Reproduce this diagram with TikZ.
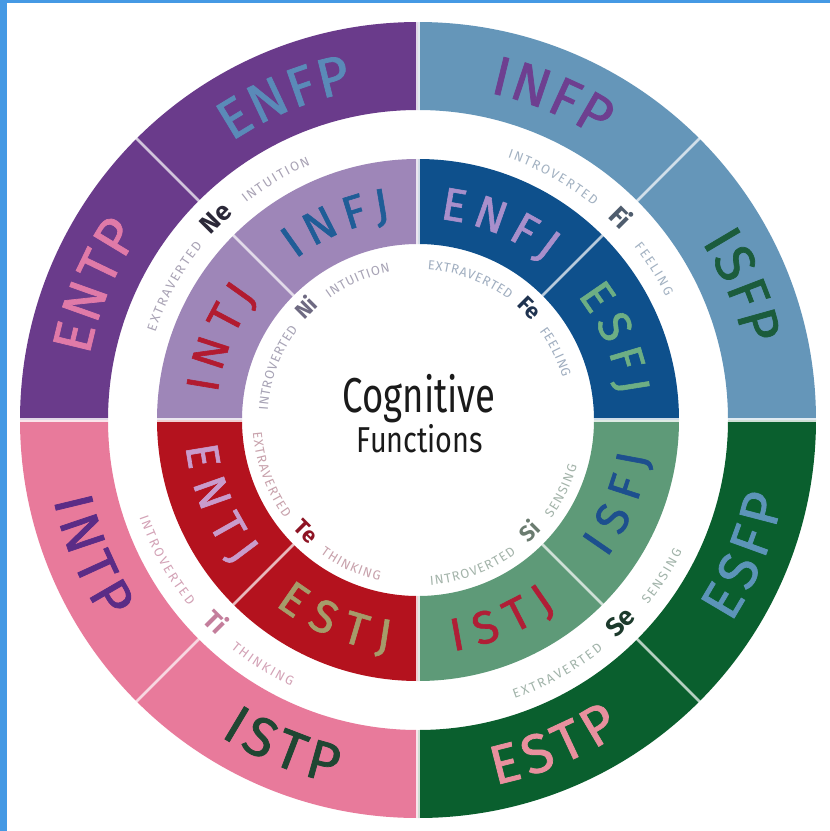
\documentclass[tikz,border=0pt]{standalone}
\usepackage{fontspec}
\setmainfont{Fira Sans}
\newfontfamily\namefont[FakeBold=1.3]{Fira Sans}
\definecolor{edgeblue}{HTML}{4599E4}
\definecolor{oTL}{HTML}{6A3B8B}
\definecolor{oTR}{HTML}{6596B9}
\definecolor{oBR}{HTML}{0A5F2E}
\definecolor{oBL}{HTML}{E87A9B}
\definecolor{iTL}{HTML}{9E86B8}
\definecolor{iTR}{HTML}{0E508C}
\definecolor{iBR}{HTML}{5E9A78}
\definecolor{iBL}{HTML}{B4121E}
% name text colours
\definecolor{tENFP}{HTML}{5A8AB8}
\definecolor{tENTP}{HTML}{E07AA8}
\definecolor{tINFP}{HTML}{6E3F90}
\definecolor{tISFP}{HTML}{1B5C3C}
\definecolor{tESFP}{HTML}{5C94B8}
\definecolor{tESTP}{HTML}{E8909E}
\definecolor{tISTP}{HTML}{1F4632}
\definecolor{tINTP}{HTML}{5B2C86}
\definecolor{tINFJ}{HTML}{1F5D97}
\definecolor{tINTJ}{HTML}{B21B30}
\definecolor{tENFJ}{HTML}{A88FCB}
\definecolor{tESFJ}{HTML}{6DAE84}
\definecolor{tISFJ}{HTML}{1D4F8E}
\definecolor{tISTJ}{HTML}{B01E36}
\definecolor{tESTJ}{HTML}{A59C6A}
\definecolor{tENTJ}{HTML}{C99BCB}
% function label colours
\definecolor{sNe}{HTML}{A9A3B5}
\definecolor{sFi}{HTML}{A3B2C2}
\definecolor{sTi}{HTML}{D3A2B6}
\definecolor{sSe}{HTML}{A2B4AA}
\definecolor{sNi}{HTML}{A8A4B6}
\definecolor{sFe}{HTML}{A0AEC0}
\definecolor{sTe}{HTML}{C8A2AC}
\definecolor{sSi}{HTML}{A4B4AA}
\definecolor{cNe}{HTML}{2B2838}
\definecolor{cFi}{HTML}{4F5D6E}
\definecolor{cTi}{HTML}{C47E9C}
\definecolor{cSe}{HTML}{1C3A2C}
\definecolor{cNi}{HTML}{6E6A82}
\definecolor{cFe}{HTML}{1F3350}
\definecolor{cTe}{HTML}{8E1424}
\definecolor{cSi}{HTML}{6B7C70}
\definecolor{ctext}{HTML}{1A1A1A}

\newcommand{\bigfont}{\namefont\fontsize{55}{55}\selectfont}
\newcommand{\midfont}{\namefont\fontsize{46}{46}\selectfont}
\newcommand{\smallfont}{\normalfont\fontsize{13}{13}\selectfont}

\tikzset{
  bigname/.style={inner sep=0pt, text height=38pt, text depth=0pt},
  midname/.style={inner sep=0pt, text height=31.5pt, text depth=0pt},
  smallword/.style={inner sep=0pt, text height=9pt, text depth=0pt},
  fncode/.style={font=\bfseries\fontsize{26}{26}\selectfont, inner sep=0pt, text height=18pt, text depth=0pt},
  fncodein/.style={font=\bfseries\fontsize{22}{22}\selectfont, inner sep=0pt, text height=15pt, text depth=0pt},
  quaddiv/.style={white, opacity=0.8, line width=4.5pt},
  halfdiv/.style={white, opacity=0.7, line width=2.5pt},
}

% annular sector: colour, inner r, outer r, start angle, end angle
\newcommand{\ringsector}[5]{%
  \fill[#1] (#4:#2) arc[start angle=#4, end angle=#5, radius=#2]
     -- (#5:#3) arc[start angle=#5, end angle=#4, radius=#3] -- cycle;}

% letters along an arc, spaced by their own widths plus tracking
% #1 name, #2 radius, #3 centre angle, #4 tracking (pt), #5 dir (1 top, -1 bottom), #6 style, #7 font, #8 letters
\newdimen\awtot \newdimen\awpos \newdimen\awch
\newbox\awbox
\newcommand{\awmeasure}[2]{%
  \pgfinterruptpicture\global\setbox\awbox=\hbox{#1#2}\endpgfinterruptpicture}
\newcommand{\arcword}[8]{%
  \global\awtot=0pt
  \foreach \ch in {#8}{\awmeasure{#7}{\ch}\global\advance\awtot by \wd\awbox\global\advance\awtot by #4pt}%
  \global\advance\awtot by -#4pt
  \global\awpos=0pt
  \foreach \ch [count=\i] in {#8}{%
    \awmeasure{#7}{\ch}\awch=\wd\awbox
    \pgfmathsetmacro\off{\the\awpos+0.5*\the\awch-0.5*\the\awtot}%
    \pgfmathsetmacro\ang{#3-(#5)*\off/#2*57.29578}%
    \pgfmathsetmacro\rot{\ang-(#5)*90}%
    \node[#6, font=#7, rotate=\rot] (#1\i) at (\ang:#2pt) {\ch};
    \global\advance\awpos by \awch\global\advance\awpos by #4pt}}

\begin{document}
\begin{tikzpicture}
\useasboundingbox (0,0) rectangle (830pt,-831pt);
\fill[white] (0,0) rectangle (830pt,-831pt);
\fill[edgeblue] (0,0) rectangle (7pt,-831pt);
\fill[edgeblue] (0,0) rectangle (830pt,-3pt);

\begin{scope}[shift={(418pt,-420pt)}]
% outer ring
\ringsector{oTR}{310pt}{398pt}{0}{90}
\ringsector{oTL}{310pt}{398pt}{90}{180}
\ringsector{oBL}{310pt}{398pt}{180}{270}
\ringsector{oBR}{310pt}{398pt}{270}{360}
% inner ring
\ringsector{iTR}{176pt}{261pt}{0}{90}
\ringsector{iTL}{176pt}{261pt}{90}{180}
\ringsector{iBL}{176pt}{261pt}{180}{270}
\ringsector{iBR}{176pt}{261pt}{270}{360}

% dividers
\foreach \a in {0,90,180,270}{
  \draw[quaddiv] (\a:308pt) -- (\a:400pt);
  \draw[quaddiv] (\a:174pt) -- (\a:263pt);}
\foreach \a in {45,135,225,315}{
  \draw[halfdiv] (\a:309pt) -- (\a:399pt);
  \draw[halfdiv] (\a:175pt) -- (\a:262pt);}

% outer ring names
\arcword{enfp}{354}{112.5}{4}{1}{bigname,text=tENFP}{\bigfont}{E,N,F,P}
\arcword{entp}{354}{157.5}{4}{1}{bigname,text=tENTP}{\bigfont}{E,N,T,P}
\arcword{infp}{354}{67.5}{4}{1}{bigname,text=tINFP}{\bigfont}{I,N,F,P}
\arcword{isfp}{354}{22.5}{4}{1}{bigname,text=tISFP}{\bigfont}{I,S,F,P}
\arcword{esfp}{354}{337.5}{4}{-1}{bigname,text=tESFP}{\bigfont}{E,S,F,P}
\arcword{estp}{354}{292.5}{4}{-1}{bigname,text=tESTP}{\bigfont}{E,S,T,P}
\arcword{istp}{354}{247.5}{4}{-1}{bigname,text=tISTP}{\bigfont}{I,S,T,P}
\arcword{intp}{354}{202.5}{4}{-1}{bigname,text=tINTP}{\bigfont}{I,N,T,P}

% inner ring names
\arcword{infj}{218}{112.5}{10}{1}{midname,text=tINFJ}{\midfont}{I,N,F,J}
\arcword{intj}{218}{157.5}{10}{1}{midname,text=tINTJ}{\midfont}{I,N,T,J}
\arcword{enfj}{218}{67.5}{10}{1}{midname,text=tENFJ}{\midfont}{E,N,F,J}
\arcword{esfj}{218}{22.5}{10}{1}{midname,text=tESFJ}{\midfont}{E,S,F,J}
\arcword{isfj}{218}{337.5}{10}{-1}{midname,text=tISFJ}{\midfont}{I,S,F,J}
\arcword{istj}{218}{292.5}{10}{-1}{midname,text=tISTJ}{\midfont}{I,S,T,J}
\arcword{estj}{218}{247.5}{10}{-1}{midname,text=tESTJ}{\midfont}{E,S,T,J}
\arcword{entj}{218}{202.5}{10}{-1}{midname,text=tENTJ}{\midfont}{E,N,T,J}

% outer gap function labels
\node[fncode, text=cNe, rotate=45] (ne) at (135:286pt) {Ne};
\arcword{nea}{281.5}{151.3}{2}{1}{smallword,text=sNe}{\smallfont}{E,X,T,R,A,V,E,R,T,E,D}
\arcword{neb}{281.5}{120.6}{2}{1}{smallword,text=sNe}{\smallfont}{I,N,T,U,I,T,I,O,N}

\node[fncode, text=cFi, rotate=-45] (fi) at (45:286pt) {Fi};
\arcword{fia}{281.5}{60.9}{2}{1}{smallword,text=sFi}{\smallfont}{I,N,T,R,O,V,E,R,T,E,D}
\arcword{fib}{281.5}{32.6}{2}{1}{smallword,text=sFi}{\smallfont}{F,E,E,L,I,N,G}

\node[fncode, text=cTi, rotate=315] (ti) at (225:286pt) {Ti};
\arcword{tia}{290.5}{209.1}{2}{-1}{smallword,text=sTi}{\smallfont}{I,N,T,R,O,V,E,R,T,E,D}
\arcword{tib}{290.5}{237.6}{2}{-1}{smallword,text=sTi}{\smallfont}{T,H,I,N,K,I,N,G}

\node[fncode, text=cSe, rotate=45] (se) at (315:286pt) {Se};
\arcword{sea}{290.5}{299.0}{2}{-1}{smallword,text=sSe}{\smallfont}{E,X,T,R,A,V,E,R,T,E,D}
\arcword{seb}{290.5}{327.4}{2}{-1}{smallword,text=sSe}{\smallfont}{S,E,N,S,I,N,G}

% inner function labels
\node[fncodein, text=cNi, rotate=45] (ni) at (135:158pt) {Ni};
\arcword{nia}{155}{159.69}{1}{1}{smallword,text=sNi}{\smallfont}{I,N,T,R,O,V,E,R,T,E,D}
\arcword{nib}{155}{113.28}{1}{1}{smallword,text=sNi}{\smallfont}{I,N,T,U,I,T,I,O,N}

\node[fncodein, text=cFe, rotate=-45] (fe) at (45:158pt) {Fe};
\arcword{fea}{155}{69.69}{1}{1}{smallword,text=sFe}{\smallfont}{E,X,T,R,A,V,E,R,T,E,D}
\arcword{feb}{155}{26.25}{1}{1}{smallword,text=sFe}{\smallfont}{F,E,E,L,I,N,G}

\node[fncodein, text=cTe, rotate=315] (te) at (225:158pt) {Te};
\arcword{tea}{161}{200.31}{1}{-1}{smallword,text=sTe}{\smallfont}{E,X,T,R,A,V,E,R,T,E,D}
\arcword{teb}{161}{245.23}{1}{-1}{smallword,text=sTe}{\smallfont}{T,H,I,N,K,I,N,G}

\node[fncodein, text=cSi, rotate=45] (si) at (315:158pt) {Si};
\arcword{sia}{161}{290.31}{1}{-1}{smallword,text=sSi}{\smallfont}{I,N,T,R,O,V,E,R,T,E,D}
\arcword{sib}{161}{333.75}{1}{-1}{smallword,text=sSi}{\smallfont}{S,E,N,S,I,N,G}

% centre title
\node[font=\fontsize{49}{49}\selectfont, text=ctext, anchor=base] (cog) at (1pt,8pt) {\scalebox{0.745}[1]{Cognitive}};
\node[font=\fontsize{36}{36}\selectfont, text=ctext, anchor=base] (fun) at (2pt,-32pt) {\scalebox{0.8}[1]{Functions}};
\end{scope}
\end{tikzpicture}
\end{document}
